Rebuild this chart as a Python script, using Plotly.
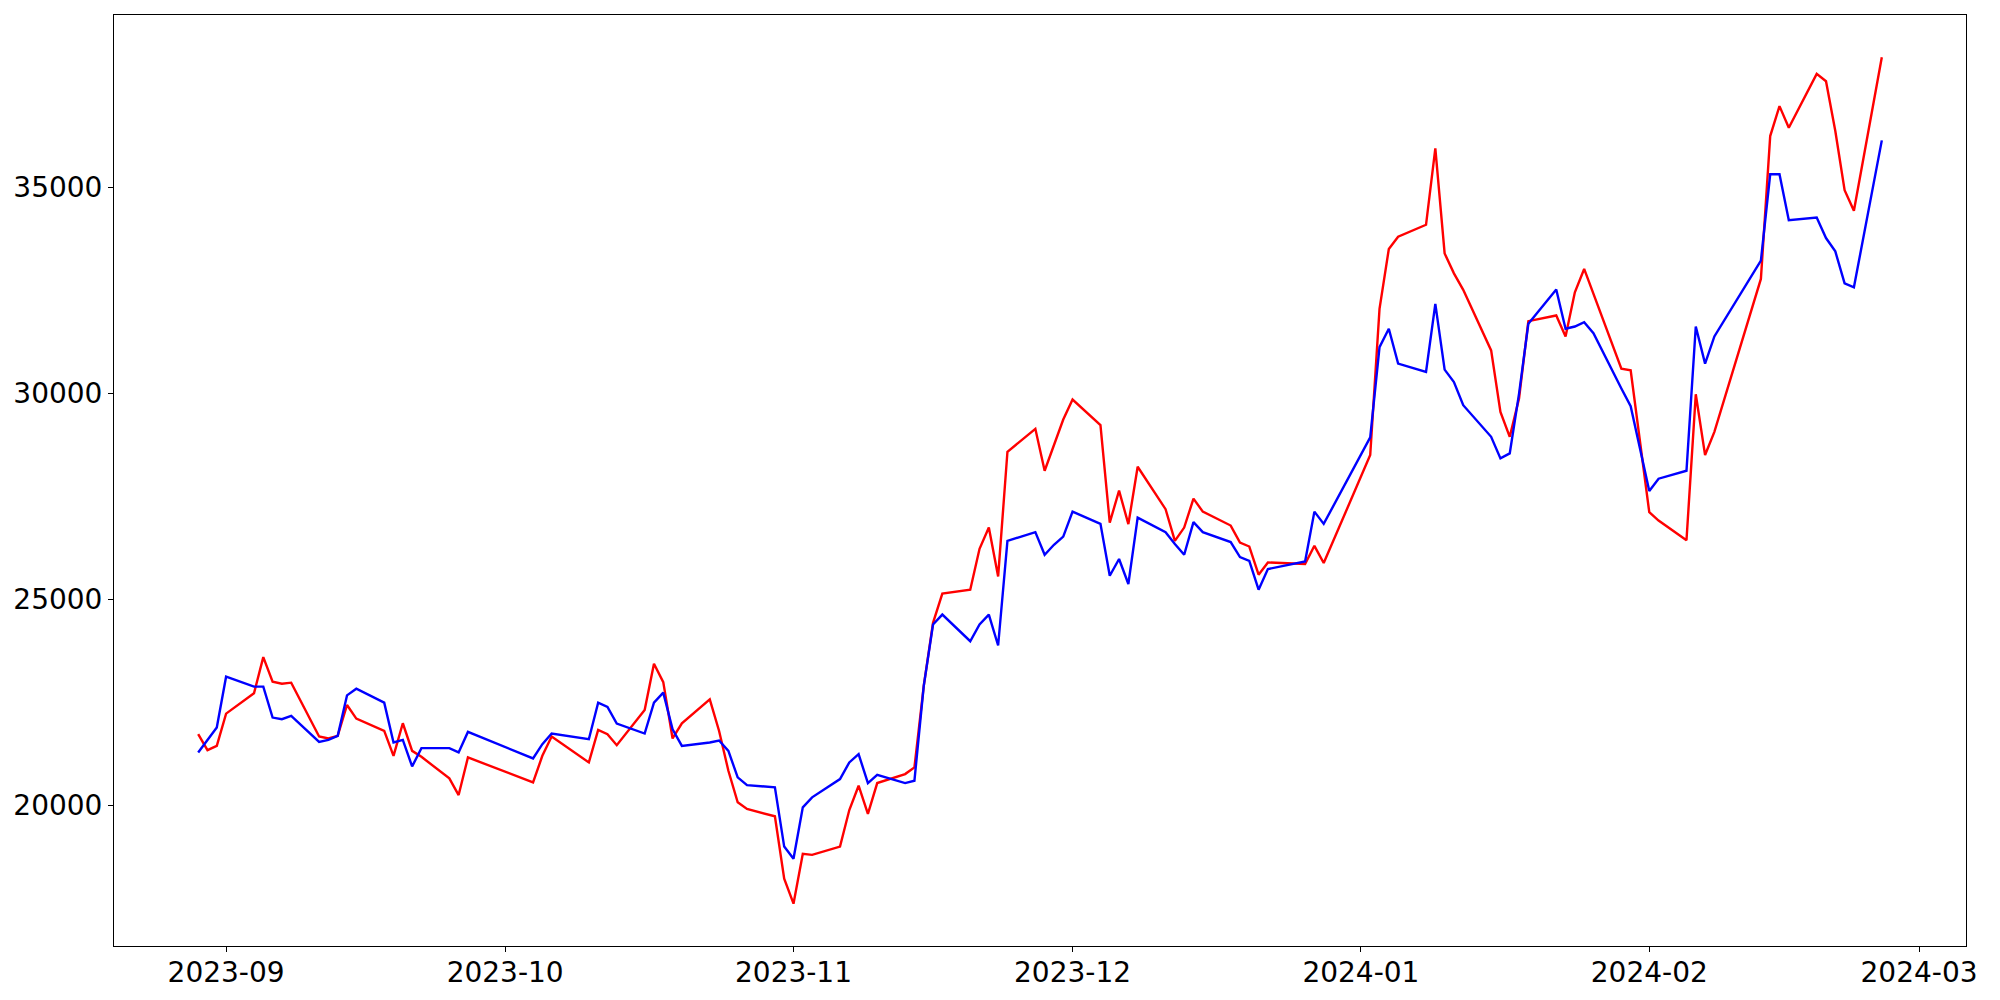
import pandas as pd
import plotly.graph_objects as go

# trading days (KRX calendar, holidays removed)
holidays = ["2023-09-28", "2023-09-29", "2023-10-02", "2023-10-03", "2023-10-09",
            "2023-12-25", "2023-12-29", "2024-01-01", "2024-02-09", "2024-02-12"]
dates = pd.bdate_range("2023-08-29", "2024-02-26", freq="C", holidays=holidays)

red_values = [
    21721, 21333, 21438,
    22221, 22713, 23592, 22995, 22947, 22972, 21665, 21617, 21680, 22430, 22100,
    21800, 21196, 21987, 21317, 21172, 20648, 20244, 21157,
    20552, 21196, 21665, 21036, 21825, 21721, 21454, 22309, 23431, 22986, 21617, 21987,
    22568, 21800, 20833, 20067, 19906, 19729, 18212,
    17607, 18817, 18792, 18993, 19881, 20470, 19785, 20535, 20753, 20915, 22890, 24424, 25133,
    25230, 26222, 26737, 25551, 28577, 29133, 28117, 28739, 29360,
    29845, 29223, 26858, 27633, 26820, 28213, 27183, 26415, 26737, 27439, 27124,
    26786, 26374, 26277, 25593, 25890, 25852, 26294, 25876,
    28497, 32047, 33499, 33796, 34087, 35943, 33392, 32908, 32507,
    31038, 29544, 28940, 29869, 31747, 31885, 31376, 32448, 33015, 32400, 30595, 30554, 28835,
    27110, 26907, 26430, 29973, 28497, 29060, 32772, 36240, 36967, 36442,
    37749, 37572, 36362, 34926, 34426, 38152,
]

blue_values = [
    21278, 21582, 21883,
    23117, 22875, 22875, 22125, 22084, 22164, 21534, 21582, 21680, 22664, 22826,
    22488, 21520, 21582, 20939, 21382, 21382, 21278, 21777,
    21132, 21479, 21737, 21600, 22488, 22381, 21980, 21737, 22488, 22730, 21842, 21438,
    21520, 21568, 21316, 20673, 20486, 20431, 18993,
    18696, 19946, 20189, 20632, 21036, 21237, 20535, 20736, 20535, 20591, 22890, 24383, 24625,
    23978, 24383, 24625, 23874, 26415, 26626, 26077, 26319, 26519,
    27124, 26827, 25568, 25973, 25368, 26979, 26626, 26336, 26077, 26868, 26626,
    26384, 26021, 25930, 25230, 25730, 25916, 27124, 26827,
    28925, 31117, 31563, 30716, 30513, 32168, 30571, 30270, 29707,
    28940, 28417, 28538, 29990, 31684, 32514, 31563, 31618, 31723, 31456, 30111, 29682, 28659,
    27625, 27923, 28117, 31618, 30716, 31376, 33216, 35313, 35313, 34200,
    34263, 33765, 33441, 32666, 32569, 36136,
]

assert len(dates) == len(red_values) == len(blue_values)

fig = go.Figure()
fig.add_trace(go.Scatter(x=dates, y=red_values, mode="lines",
                         line=dict(color="#ff0000", width=2.4), showlegend=False))
fig.add_trace(go.Scatter(x=dates, y=blue_values, mode="lines",
                         line=dict(color="#0000ff", width=2.4), showlegend=False))

# matplotlib-like 5% padding
lo = min(min(red_values), min(blue_values))
hi = max(max(red_values), max(blue_values))
pad = (hi - lo) * 0.05
span = dates[-1] - dates[0]

axis_style = dict(showline=True, linecolor="black", linewidth=1, mirror=True,
                  ticks="outside", ticklen=5, tickwidth=1, tickcolor="black",
                  showgrid=False, zeroline=False, automargin=False,
                  tickfont=dict(family="DejaVu Sans", size=28, color="black"))

# page body has an 8px margin, so the figure is a bit smaller than the window
fig.update_layout(
    width=1992, height=992, autosize=False,
    margin=dict(l=106, r=34, t=7, b=54),
    paper_bgcolor="white", plot_bgcolor="white",
    xaxis=dict(range=[dates[0] - span * 0.05, dates[-1] + span * 0.05],
               dtick="M1", tick0="2023-09-01", tickformat="%Y-%m",
               ticklabelstandoff=-4, **axis_style),
    yaxis=dict(range=[lo - pad, hi + pad], dtick=5000, tickformat="d", **axis_style),
)

fig.write_html("out.html")
